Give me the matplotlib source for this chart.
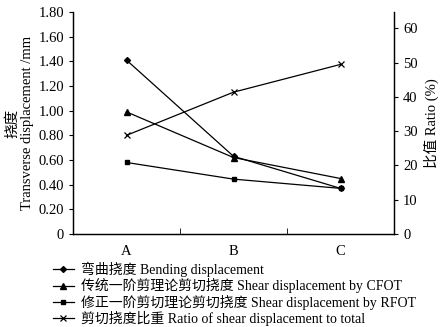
import matplotlib
matplotlib.use("Agg")
import matplotlib.pyplot as plt
from matplotlib.lines import Line2D

plt.rcParams['font.family'] = ['Liberation Serif', 'Noto Sans CJK SC']
plt.rcParams['font.size'] = 10.5

# data
categories = ["A", "B", "C"]
bending = [1.41, 0.63, 0.37]
shear_cfot = [0.99, 0.62, 0.45]
shear_rfot = [0.58, 0.445, 0.37]
ratio = [28.8, 41.4, 49.5]

labels = ["弯曲挠度 Bending displacement",
          "传统一阶剪理论剪切挠度 Shear displacement by CFOT",
          "修正一阶剪切理论剪切挠度 Shear displacement by RFOT",
          "剪切挠度比重 Ratio of shear displacement to total"]

x = list(range(len(categories)))

fig = plt.figure(figsize=(4.4, 3.27), dpi=100)
ax = fig.add_axes([73/440, 1 - 234/327, (394 - 73)/440, (234 - 12)/327])
ax2 = ax.twinx()

ax.plot(x, bending, color='black', lw=0.9, marker='D', ms=3)
ax.plot(x, shear_cfot, color='black', lw=0.9, marker='^', ms=4.5)
ax.plot(x, shear_rfot, color='black', lw=0.9, marker='s', ms=3.5)
ax2.plot(x, ratio, color='black', lw=0.9, marker='x', ms=5, mew=0.9)

ax.set_xlim(-0.5, 2.5)
ax.set_ylim(0, 1.80)
ax2.set_ylim(0, 64.8)

ax.set_yticks([0, 0.2, 0.4, 0.6, 0.8, 1.0, 1.2, 1.4, 1.6, 1.8])
ax.set_yticklabels(["0", "0.20", "0.40", "0.60", "0.80", "1.00", "1.20", "1.40", "1.60", "1.80"])
ax2.set_yticks([0, 10, 20, 30, 40, 50, 60])

ax.set_xticks(x)
ax.set_xticklabels(categories)
ax.tick_params(axis='x', length=0, pad=8)
ax.set_xticks([0.5, 1.5], minor=True)
ax.tick_params(axis='x', which='minor', direction='in', length=4)
ax.tick_params(axis='y', direction='out', length=3, width=0.8)
ax2.tick_params(axis='y', direction='out', length=3, width=0.8)

for a in (ax, ax2):
    a.spines['top'].set_visible(False)
    for s in a.spines.values():
        s.set_linewidth(0.9)

ax.set_ylabel("挠度\nTransverse displacement /mm", labelpad=3, linespacing=1.15)
ax2.set_ylabel("比值 Ratio (%)", labelpad=4)

handles = [Line2D([], [], color='black', lw=0.9, marker='D', ms=3),
           Line2D([], [], color='black', lw=0.9, marker='^', ms=4.5),
           Line2D([], [], color='black', lw=0.9, marker='s', ms=3.5),
           Line2D([], [], color='black', lw=0.9, marker='x', ms=5, mew=0.9)]
fig.legend(handles, labels, loc='upper left', bbox_to_anchor=(53/440, 1 - 262/327),
           frameon=False, handlelength=1.5, handletextpad=0.55, labelspacing=0.08,
           borderaxespad=0, borderpad=0, fontsize=10)

fig.savefig("out.png", dpi=100)
